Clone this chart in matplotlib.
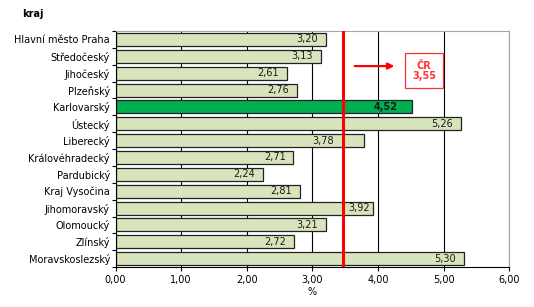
import matplotlib
matplotlib.use("Agg")
import matplotlib.pyplot as plt

kraje = ["Hlavní město Praha", "Středočeský", "Jihočeský", "Plzeňský", "Karlovarský",
         "Ústecký", "Liberecký", "Královéhradecký", "Pardubický", "Kraj Vysočina",
         "Jihomoravský", "Olomoucký", "Zlínský", "Moravskoslezský"]
hodnoty = [3.20, 3.13, 2.61, 2.76, 4.52, 5.26, 3.78, 2.71, 2.24, 2.81, 3.92, 3.21, 2.72, 5.30]
cr_label = "3,55"
cr_line = 3.47
xticks = [0, 1, 2, 3, 4, 5, 6]

plt.rcParams["font.family"] = "DejaVu Sans"

fig = plt.figure(figsize=(5.34, 3.07), dpi=100)
ax = fig.add_axes([0.2163, 0.130, 0.7378, 0.769])

n = len(kraje)
ypos = list(range(n))
colors = ["#00b050" if k == "Karlovarský" else "#d8e4bc" for k in kraje]
ax.barh(ypos, hodnoty, height=0.77, color=colors, edgecolor="#222222", linewidth=0.9, zorder=2)

for y, v in zip(ypos, hodnoty):
    bold = "bold" if v == 4.52 else "normal"
    off = 0.12
    if v - off > cr_line and v - 0.6 < cr_line:
        off = 0.45 if v < 3.85 else 0.05
    if v == 4.52:
        off = 0.23
    ax.text(v - off, y, f"{v:.2f}".replace(".", ","), ha="right", va="center",
            fontsize=7, fontweight=bold, color="#1a1a1a", zorder=5)

ax.axvline(cr_line, color="#ff0000", lw=2.2, zorder=4)

ax.set_xlim(0, 6)
ax.set_ylim(n - 0.5, -0.5)
ax.set_xticks(xticks)
ax.set_xticklabels([f"{t:.2f}".replace(".", ",") for t in xticks], fontsize=7)
ax.set_yticks(ypos)
ax.set_yticklabels(kraje, fontsize=7)
ax.tick_params(axis="y", length=0, pad=4)
ax.tick_params(axis="x", length=3, width=0.8, direction="out", pad=3)
ax.set_yticks([y + 0.5 for y in range(-1, n)], minor=True)
ax.tick_params(axis="y", which="minor", length=3, width=0.8, direction="out")
ax.grid(axis="x", color="black", lw=0.8, zorder=1)

for s in ["top", "right"]:
    ax.spines[s].set_color("#a6a6a6")
for s in ["left", "bottom"]:
    ax.spines[s].set_color("black")

ax.set_xlabel("%", fontsize=7, labelpad=1)

fig.text(0.062, 0.955, "kraj", fontsize=7, fontweight="bold", ha="center", va="center")

ax.annotate("", xy=(4.29, 1.58), xytext=(3.6, 1.58),
            arrowprops=dict(arrowstyle="-|>", color="#ff0000", lw=1.6, mutation_scale=9), zorder=5)
ax.text(4.70, 1.87, "ČR\n" + cr_label, ha="center", va="center", fontsize=7,
        fontweight="bold", color="#ff3333", linespacing=1.05,
        bbox=dict(boxstyle="square,pad=0.75", fc="white", ec="#ff3333", lw=0.9), zorder=5)

fig.savefig("out.png", dpi=100)
